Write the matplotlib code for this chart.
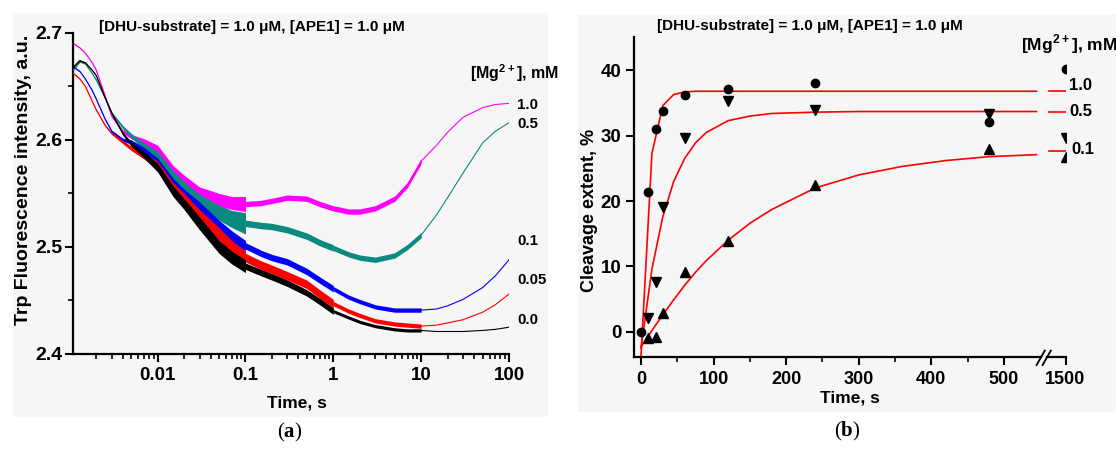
import numpy as np
import matplotlib
matplotlib.use("Agg")
import matplotlib.pyplot as plt
from matplotlib.patches import Rectangle
from matplotlib.lines import Line2D
from matplotlib.ticker import FixedLocator, NullFormatter, LogLocator, FuncFormatter

# ---------------- panel (a) data : stopped-flow Trp fluorescence ----------------
t_knots = [0.0011, 0.0013, 0.0015, 0.0018, 0.002, 0.0025, 0.003, 0.004, 0.005, 0.007,
           0.01, 0.015, 0.02, 0.03, 0.05, 0.07, 0.1, 0.15, 0.2, 0.3, 0.5, 0.7, 1,
           1.5, 2, 3, 5, 7, 10, 15, 20, 30, 50, 70, 100]
mg_a = ['1.0', '0.5', '0.1', '0.05', '0.0']
colors_a = ['#ff00ff', '#0b8a80', '#0000ff', '#ff0000', '#000000']
fl_10 = [2.690, 2.686, 2.681, 2.672, 2.665, 2.642, 2.622, 2.608, 2.603, 2.598,
         2.591, 2.572, 2.562, 2.551, 2.544, 2.541, 2.540, 2.541, 2.543, 2.546, 2.545, 2.540, 2.536,
         2.533, 2.533, 2.536, 2.545, 2.558, 2.580, 2.595, 2.607, 2.621, 2.630, 2.633, 2.634]
fl_05 = [2.665, 2.673, 2.671, 2.662, 2.656, 2.640, 2.625, 2.612, 2.604, 2.594,
         2.585, 2.566, 2.556, 2.543, 2.532, 2.526, 2.522, 2.520, 2.519, 2.516, 2.510, 2.504, 2.499,
         2.493, 2.490, 2.488, 2.492, 2.500, 2.511, 2.530, 2.546, 2.569, 2.597, 2.608, 2.616]
fl_01 = [2.668, 2.664, 2.657, 2.646, 2.638, 2.620, 2.608, 2.600, 2.598, 2.590,
         2.580, 2.560, 2.550, 2.537, 2.520, 2.510, 2.501, 2.494, 2.490, 2.486, 2.477, 2.469, 2.461,
         2.453, 2.449, 2.444, 2.441, 2.441, 2.441, 2.442, 2.445, 2.451, 2.462, 2.473, 2.488]
fl_005 = [2.662, 2.657, 2.650, 2.636, 2.628, 2.614, 2.606, 2.598, 2.592, 2.585,
          2.576, 2.556, 2.545, 2.530, 2.512, 2.500, 2.490, 2.483, 2.479, 2.473, 2.465, 2.456, 2.447,
          2.440, 2.436, 2.431, 2.428, 2.427, 2.426, 2.427, 2.429, 2.432, 2.439, 2.446, 2.456]
fl_00 = [2.668, 2.674, 2.672, 2.665, 2.660, 2.640, 2.625, 2.606, 2.596, 2.586,
         2.574, 2.552, 2.540, 2.522, 2.500, 2.490, 2.482, 2.476, 2.472, 2.466, 2.457, 2.449, 2.440,
         2.434, 2.430, 2.426, 2.423, 2.422, 2.422, 2.421, 2.421, 2.421, 2.422, 2.423, 2.425]
# noise half-width (fast window, knots 0.0011..0.1 s)
noise_fast_10 = [0.0005, 0.0005, 0.0005, 0.0006, 0.0007, 0.0008, 0.001, 0.0015, 0.002, 0.003,
                 0.004, 0.004, 0.005, 0.005, 0.006, 0.006, 0.007]
noise_fast_05 = [0.0005, 0.0005, 0.0005, 0.0006, 0.0007, 0.0008, 0.001, 0.0015, 0.002, 0.003,
                 0.004, 0.005, 0.005, 0.006, 0.007, 0.008, 0.010]
noise_fast_01 = [0.0005, 0.0005, 0.0005, 0.0006, 0.0007, 0.0008, 0.001, 0.0015, 0.002, 0.003,
                 0.003, 0.004, 0.004, 0.005, 0.005, 0.005, 0.005]
noise_fast_005 = [0.0005, 0.0005, 0.0005, 0.0006, 0.0007, 0.0008, 0.001, 0.0015, 0.002, 0.003,
                  0.004, 0.004, 0.005, 0.005, 0.006, 0.006, 0.006]
noise_fast_00 = [0.0005, 0.0005, 0.0005, 0.0006, 0.0007, 0.0008, 0.001, 0.0015, 0.002, 0.003,
                 0.004, 0.005, 0.005, 0.006, 0.006, 0.006, 0.006]
# noise half-width in the 0.1-1 s and 1-10 s windows
noise_mid = [0.0025, 0.003, 0.003, 0.004, 0.003]
noise_slow = [0.0025, 0.0025, 0.002, 0.002, 0.0015]

# ---------------- panel (b) data : cleavage extent ----------------
t_pts = [0, 10, 20, 30, 60, 120, 240, 480, 1500]
t_pts_tri = [10, 20, 30, 60, 120, 240, 480, 1500]
cl_10 = [0, 21.4, 31.1, 33.8, 36.2, 37.1, 38.0, 32.1, 40.2]
cl_05 = [2.1, 7.6, 19.1, 29.7, 35.3, 33.9, 33.3, 29.6]
cl_01 = [-1.0, -0.8, 2.9, 9.2, 13.9, 22.4, 27.9, 26.8]
t_fit = [0, 15, 30, 45, 60, 75, 90, 120, 150, 180, 240, 300, 360, 420, 480, 545]
fit_10 = [-3.6, 27.3, 34.6, 36.3, 36.7, 36.8, 36.8, 36.8, 36.8, 36.8, 36.8, 36.8, 36.8, 36.8, 36.8, 36.8]
fit_05 = [-2.5, 9.6, 17.6, 23.0, 26.5, 28.9, 30.5, 32.3, 33.0, 33.4, 33.6, 33.7, 33.7, 33.7, 33.7, 33.7]
fit_01 = [-2.3, 0.2, 2.6, 4.9, 7.1, 9.1, 10.9, 14.0, 16.6, 18.7, 22.0, 24.0, 25.3, 26.2, 26.8, 27.1]
t_tail = [1477, 1500]
tail_10 = [36.8, 36.8]
tail_05 = [33.7, 33.7]
tail_01 = [27.6, 27.6]
mg_b = ['1.0', '0.5', '0.1']
x_ticks_b = [0, 100, 200, 300, 400, 500, 1500]
x_minor_b = [50, 150, 250, 350, 450]

title_txt = "[DHU-substrate] = 1.0 \u03bcM, [APE1] = 1.0 \u03bcM"

# ---------------- styling ----------------
plt.rcParams['font.family'] = ['Liberation Sans', 'DejaVu Sans']
plt.rcParams['font.weight'] = 'bold'
plt.rcParams['mathtext.fontset'] = 'custom'
plt.rcParams['mathtext.sf'] = 'Liberation Sans:bold'
plt.rcParams['mathtext.bf'] = 'Liberation Serif:bold'
plt.rcParams['mathtext.rm'] = 'Liberation Serif'

W, H = 1116, 451
fig = plt.figure(figsize=(W / 100, H / 100), dpi=100)
fig.patch.set_facecolor('white')

def fx(px):
    return px / W

def fy(py):
    return 1 - py / H

bg = '#f6f6f6'
fig.patches.append(Rectangle((fx(13), fy(417)), fx(548) - fx(13), fy(13) - fy(417),
                             transform=fig.transFigure, facecolor=bg, edgecolor='none', zorder=-10))
fig.patches.append(Rectangle((fx(578), fy(412)), fx(1116) - fx(578), fy(15) - fy(412),
                             transform=fig.transFigure, facecolor=bg, edgecolor='none', zorder=-10))

# ======== panel (a) ========
axA = fig.add_axes([fx(72.7), fy(354), fx(509) - fx(72.7), fy(32.7) - fy(354)])
axA.set_facecolor('none')
axA.set_xscale('log')
axA.set_xlim(0.00108, 100)
axA.set_ylim(2.4, 2.7)

traces = [fl_10, fl_05, fl_01, fl_005, fl_00]
fast_noise = [noise_fast_10, noise_fast_05, noise_fast_01, noise_fast_005, noise_fast_00]
t_arr = np.array(t_knots)
i01 = t_knots.index(0.1)
i1 = t_knots.index(1)
i10 = t_knots.index(10)
for k in range(5):
    v = np.array(traces[k])
    c = colors_a[k]
    nf = np.array(fast_noise[k])
    sA = slice(0, i01 + 1)
    axA.fill_between(t_arr[sA], v[sA] - nf, v[sA] + nf, color=c, lw=0, zorder=2 + k)
    sB = slice(i01, i1 + 1)
    axA.fill_between(t_arr[sB], v[sB] - noise_mid[k], v[sB] + noise_mid[k], color=c, lw=0, zorder=2 + k)
    sC = slice(i1, i10 + 1)
    axA.fill_between(t_arr[sC], v[sC] - noise_slow[k], v[sC] + noise_slow[k], color=c, lw=0, zorder=2 + k)
    axA.plot(t_arr, v, color=c, lw=0.8, zorder=2 + k)

axA.spines['top'].set_visible(False)
axA.spines['right'].set_visible(False)
for s in ['left', 'bottom']:
    axA.spines[s].set_linewidth(1.6)
axA.xaxis.set_major_locator(FixedLocator([0.01, 0.1, 1, 10, 100]))
axA.xaxis.set_major_formatter(FuncFormatter(lambda x, p: {0.01: '0.01', 0.1: '0.1', 1: '1', 10: '10', 100: '100'}.get(round(x, 4), '')))
axA.xaxis.set_minor_locator(LogLocator(base=10, subs=np.arange(2, 10)))
axA.xaxis.set_minor_formatter(NullFormatter())
axA.yaxis.set_major_locator(FixedLocator([2.4, 2.5, 2.6, 2.7]))
axA.yaxis.set_major_formatter(FuncFormatter(lambda y, p: f"{y:.1f}"))
axA.yaxis.set_minor_locator(FixedLocator([2.45, 2.55, 2.65]))
axA.tick_params(which='major', direction='out', length=6, width=1.5)
axA.tick_params(which='minor', direction='out', length=3.5, width=1.2)
axA.tick_params(axis='y', pad=1, labelsize=14)
axA.tick_params(axis='x', pad=3, labelsize=13.5)

fig.text(fx(252), fy(26.5), title_txt, ha='center', va='center', fontsize=11)
fig.text(fx(24), fy(180), 'Trp Fluorescence intensity, a.u.', rotation=90, ha='center', va='center', fontsize=14)
fig.text(fx(297), fy(403), 'Time, s', ha='center', va='center', fontsize=12.5)
fig.text(fx(470), fy(79), r'[Mg$^{\mathsf{2+}}$], mM', ha='left', va='baseline', fontsize=11.5)
lab_a_y = [104.7, 124, 241, 280.5, 319.7]
for lab, py in zip(mg_a, lab_a_y):
    fig.text(fx(517.3), fy(py), lab, ha='left', va='center', fontsize=10.8)
fig.text(fx(290), fy(432), r'($\mathbf{a}$)', ha='center', va='center', fontsize=15,
         family='Liberation Serif', weight='normal')

# ======== panel (b) ========
axB = fig.add_axes([fx(634), fy(357.3), fx(1065.5) - fx(634), fy(37) - fy(357.3)])
axB.set_facecolor('none')
brk_d = [-1.0e4, 555.0, 1475.0, 1.0e5]
brk_s = [-1.0e4, 555.0, 560.0, 1.0e5 - 915.0]

def fwd(x):
    return np.interp(x, brk_d, brk_s)

def inv(y):
    return np.interp(y, brk_s, brk_d)

axB.set_xscale('function', functions=(fwd, inv))
axB.set_xlim(-9.7, 1500)
axB.set_ylim(-3.9, 45.1)

fit_sets = [(fit_10, tail_10), (fit_05, tail_05), (fit_01, tail_01)]
for f, tl in fit_sets:
    axB.plot(t_fit, f, color='#ff0000', lw=1.2, zorder=3)
    axB.plot(t_tail, tl, color='#ff0000', lw=1.2, zorder=3)

axB.plot(t_pts, cl_10, 'o', color='black', ms=6, zorder=4)
axB.plot(t_pts_tri, cl_05, 'v', color='black', ms=6.5, zorder=4)
axB.plot(t_pts_tri, cl_01, '^', color='black', ms=6.5, zorder=4)

axB.spines['top'].set_visible(False)
axB.spines['right'].set_visible(False)
axB.spines['bottom'].set_visible(False)
axB.spines['left'].set_linewidth(1.6)
axB.add_line(Line2D([0, 0.943], [0, 0], transform=axB.transAxes, color='black', lw=1.6, clip_on=False))
axB.add_line(Line2D([0.957, 1.0], [0, 0], transform=axB.transAxes, color='black', lw=1.6, clip_on=False))
axB.add_line(Line2D([0.933, 0.952], [-0.024, 0.021], transform=axB.transAxes, color='black', lw=1.3, clip_on=False))
axB.add_line(Line2D([0.947, 0.966], [-0.024, 0.021], transform=axB.transAxes, color='black', lw=1.3, clip_on=False))

axB.xaxis.set_major_locator(FixedLocator(x_ticks_b))
axB.xaxis.set_major_formatter(FuncFormatter(lambda x, p: f"{int(round(x))}"))
axB.xaxis.set_minor_locator(FixedLocator(x_minor_b))
axB.xaxis.set_minor_formatter(NullFormatter())
axB.yaxis.set_major_locator(FixedLocator([0, 10, 20, 30, 40]))
axB.yaxis.set_minor_locator(FixedLocator([]))
axB.tick_params(which='major', direction='out', length=6, width=1.5)
axB.tick_params(which='minor', direction='out', length=3.5, width=1.2)
axB.tick_params(axis='y', pad=3, labelsize=13.5)
axB.tick_params(axis='x', pad=4, labelsize=13)

fig.text(fx(809.7), fy(26), title_txt, ha='center', va='center', fontsize=11)
fig.text(fx(590), fy(210.5), 'Cleavage extent, %', rotation=90, ha='center', va='center', fontsize=13)
fig.text(fx(849.5), fy(398), 'Time, s', ha='center', va='center', fontsize=12.5)
fig.text(fx(1021), fy(50), r'[Mg$^{\mathsf{2+}}$], mM', ha='left', va='baseline', fontsize=12.5)
lab_b = [(1069.3, 86), (1069.3, 111.7), (1071, 149)]
for lab, (px, py) in zip(mg_b, lab_b):
    fig.text(fx(px), fy(py), lab, ha='left', va='center', fontsize=12)
fig.text(fx(847), fy(431), r'($\mathbf{b}$)', ha='center', va='center', fontsize=15,
         family='Liberation Serif', weight='normal')

fig.savefig('out.png', dpi=100, facecolor='white')
